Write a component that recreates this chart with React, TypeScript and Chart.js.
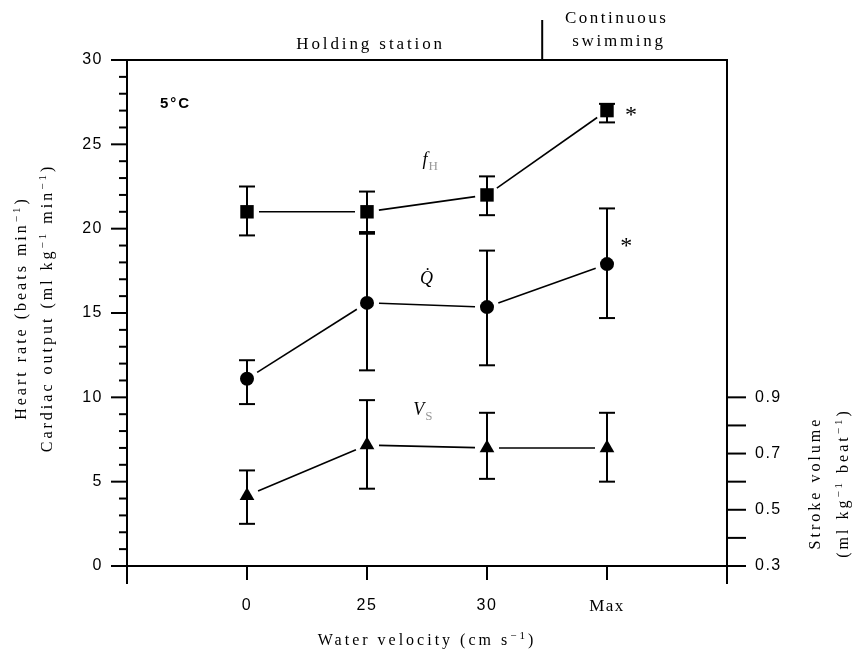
import React, { useEffect, useRef } from 'react';
import { Chart, registerables } from 'chart.js';

Chart.register(...registerables);

// ---- data ----
const categories = ['0', '25', '30', 'Max'];
const heartRate = [21.0, 21.0, 22.0, 27.0];
const heartRateHi = [22.5, 22.2, 23.1, 27.4];
const heartRateLo = [19.6, 19.8, 20.8, 26.3];
const cardiacOutput = [11.1, 15.6, 15.35, 17.9];
const cardiacOutputHi = [12.2, 19.7, 18.7, 21.2];
const cardiacOutputLo = [9.6, 11.6, 11.9, 14.7];
const strokeVolume = [0.55, 0.73, 0.72, 0.72];
const strokeVolumeHi = [0.64, 0.89, 0.845, 0.845];
const strokeVolumeLo = [0.45, 0.575, 0.61, 0.6];
const leftTickLabels = [0, 5, 10, 15, 20, 25, 30];
const leftMinorTicks = Array.from({ length: 31 }, (_, i) => i);
const rightTickLabels = [0.3, 0.5, 0.7, 0.9];
const rightMinorTicks = [0.3, 0.4, 0.5, 0.6, 0.7, 0.8, 0.9];

type Part = { t: string; sup?: boolean; sub?: boolean; italic?: boolean; color?: string };

const SERIF = '"Liberation Serif", "DejaVu Serif", serif';
const SANS = '"Liberation Sans", Arial, sans-serif';

function drawRich(
  ctx: CanvasRenderingContext2D,
  parts: Part[],
  x: number,
  y: number,
  size: number,
  family: string,
  spacing: number,
  align: 'left' | 'center' | 'right' = 'center',
  weight = ''
) {
  ctx.save();
  (ctx as any).letterSpacing = spacing + 'px';
  ctx.textBaseline = 'alphabetic';
  ctx.textAlign = 'left';
  const fontFor = (p: Part) =>
    `${p.italic ? 'italic ' : ''}${weight ? weight + ' ' : ''}${p.sup || p.sub ? Math.round(size * 0.7) : size}px ${family}`;
  let w = 0;
  parts.forEach((p) => {
    ctx.font = fontFor(p);
    w += ctx.measureText(p.t).width;
  });
  let cx = align === 'center' ? x - w / 2 : align === 'right' ? x - w : x;
  const base = y + size * 0.33;
  parts.forEach((p) => {
    ctx.font = fontFor(p);
    ctx.fillStyle = p.color || '#000';
    const dy = p.sup ? -size * 0.38 : p.sub ? size * 0.28 : 0;
    ctx.fillText(p.t, cx, base + dy);
    cx += ctx.measureText(p.t).width;
  });
  ctx.restore();
}

function line(ctx: CanvasRenderingContext2D, x1: number, y1: number, x2: number, y2: number) {
  ctx.beginPath();
  ctx.moveTo(x1, y1);
  ctx.lineTo(x2, y2);
  ctx.stroke();
}

const figurePlugin = {
  id: 'figure',
  beforeDraw(chart: any) {
    chart.ctx.letterSpacing = '1.5px';
  },
  beforeDatasetsDraw(chart: any) {
    const { ctx, chartArea: a, scales } = chart;
    const xs = scales.x, ys = scales.y, y2 = scales.y2;
    ctx.save();
    ctx.strokeStyle = '#000';
    ctx.lineCap = 'butt';
    ctx.lineWidth = 2;
    // frame / axes
    line(ctx, a.left - 1, a.top, a.right + 1, a.top);
    line(ctx, a.left, a.top, a.left, a.bottom + 18);
    line(ctx, a.right, a.top, a.right, a.bottom + 18);
    line(ctx, a.left - 16, a.bottom, a.right + 19, a.bottom);
    // left ticks
    leftMinorTicks.forEach((v) => {
      const py = ys.getPixelForValue(v);
      const len = v % 5 === 0 ? 16 : 8;
      line(ctx, a.left - len, py, a.left, py);
    });
    // right ticks
    rightMinorTicks.forEach((v) => {
      const py = y2.getPixelForValue(v);
      line(ctx, a.right, py, a.right + 19, py);
    });
    // x ticks
    categories.forEach((_, i) => {
      const px = xs.getPixelForValue(i + 1);
      line(ctx, px, a.bottom, px, a.bottom + 14);
    });
    // divider between holding station / continuous swimming
    const dvx = xs.getPixelForValue(3.46);
    line(ctx, dvx, a.top - 40, dvx, a.top);

    // connecting lines (with gaps around markers)
    const series: [number[], any][] = [
      [heartRate, ys],
      [cardiacOutput, ys],
      [strokeVolume, y2],
    ];
    ctx.lineWidth = 1.6;
    series.forEach(([vals, sc]) => {
      for (let i = 0; i < vals.length - 1; i++) {
        const x1 = xs.getPixelForValue(i + 1), y1 = sc.getPixelForValue(vals[i]);
        const x2 = xs.getPixelForValue(i + 2), yv2 = sc.getPixelForValue(vals[i + 1]);
        const dx = x2 - x1, dy = yv2 - y1, len = Math.hypot(dx, dy);
        const g = 12;
        line(ctx, x1 + (dx * g) / len, y1 + (dy * g) / len, x2 - (dx * g) / len, yv2 - (dy * g) / len);
      }
    });
    // error bars
    const bars: [number[], number[], any][] = [
      [heartRateHi, heartRateLo, ys],
      [cardiacOutputHi, cardiacOutputLo, ys],
      [strokeVolumeHi, strokeVolumeLo, y2],
    ];
    ctx.lineWidth = 2;
    bars.forEach(([hi, lo, sc]) => {
      hi.forEach((h, i) => {
        const px = xs.getPixelForValue(i + 1);
        const pyh = sc.getPixelForValue(h), pyl = sc.getPixelForValue(lo[i]);
        line(ctx, px, pyh, px, pyl);
        line(ctx, px - 8, pyh, px + 8, pyh);
        line(ctx, px - 8, pyl, px + 8, pyl);
      });
    });
    ctx.restore();
  },
  afterDraw(chart: any) {
    const { ctx, chartArea: a, scales } = chart;
    const xs = scales.x, ys = scales.y;
    const midX = (a.left + a.right) / 2;
    const midY = (a.top + a.bottom) / 2;

    // top annotations
    drawRich(ctx, [{ t: 'Holding station' }], xs.getPixelForValue(2.03), a.top - 17, 17, SERIF, 2.9);
    drawRich(ctx, [{ t: 'Continuous' }], xs.getPixelForValue(4.08), a.top - 43, 17, SERIF, 2.5);
    drawRich(ctx, [{ t: 'swimming' }], xs.getPixelForValue(4.1), a.top - 20, 17, SERIF, 2.7);

    // temperature label
    drawRich(ctx, [{ t: '5°C' }], xs.getPixelForValue(0.275), ys.getPixelForValue(27.45), 15, SANS, 2, 'left', 'bold');

    // series labels
    drawRich(ctx, [{ t: 'f', italic: true }, { t: 'H', sub: true, color: '#999' }], xs.getPixelForValue(2.53), ys.getPixelForValue(24.1), 18, SERIF, 1);
    drawRich(ctx, [{ t: 'Q\u0307', italic: true }], xs.getPixelForValue(2.5), ys.getPixelForValue(17.1), 18, SERIF, 1);
    drawRich(ctx, [{ t: 'V', italic: true }, { t: 'S', sub: true, color: '#999' }], xs.getPixelForValue(2.47), ys.getPixelForValue(9.3), 18, SERIF, 1);

    // significance asterisks
    drawRich(ctx, [{ t: '*' }], xs.getPixelForValue(4.2), ys.getPixelForValue(heartRate[3]) + 3, 24, SERIF, 0);
    drawRich(ctx, [{ t: '*' }], xs.getPixelForValue(4.16), ys.getPixelForValue(cardiacOutput[3]) - 19, 24, SERIF, 0);

    // x axis title
    drawRich(ctx, [{ t: 'Water velocity (cm s' }, { t: '\u22121', sup: true }, { t: ')' }], midX, 640, 16, SERIF, 3);

    // left axis title (two lines, rotated)
    ctx.save();
    ctx.translate(21, midY - 5);
    ctx.rotate(-Math.PI / 2);
    drawRich(ctx, [{ t: 'Heart rate (beats min' }, { t: '\u22121', sup: true }, { t: ')' }], 0, 0, 16, SERIF, 3);
    ctx.restore();
    ctx.save();
    ctx.translate(47, midY - 5);
    ctx.rotate(-Math.PI / 2);
    drawRich(
      ctx,
      [{ t: 'Cardiac output (ml kg' }, { t: '\u22121', sup: true }, { t: ' min' }, { t: '\u22121', sup: true }, { t: ')' }],
      0,
      0,
      16,
      SERIF,
      3
    );
    ctx.restore();

    // right axis title (two lines, rotated)
    ctx.save();
    ctx.translate(815, 483);
    ctx.rotate(-Math.PI / 2);
    drawRich(ctx, [{ t: 'Stroke volume' }], 0, 0, 16, SERIF, 3);
    ctx.restore();
    ctx.save();
    ctx.translate(843, 483);
    ctx.rotate(-Math.PI / 2);
    drawRich(ctx, [{ t: '(ml kg' }, { t: '\u22121', sup: true }, { t: ' beat' }, { t: '\u22121', sup: true }, { t: ')' }], 0, 0, 16, SERIF, 3);
    ctx.restore();
  },
};

export default function App() {
  const canvasRef = useRef<HTMLCanvasElement | null>(null);

  useEffect(() => {
    const canvas = canvasRef.current;
    if (!canvas) return;
    const mk = (vals: number[]) => vals.map((v, i) => ({ x: i + 1, y: v }));
    const chart = new Chart(canvas, {
      type: 'scatter',
      data: {
        datasets: [
          {
            label: 'Heart rate',
            data: mk(heartRate),
            yAxisID: 'y',
            pointStyle: 'rect',
            pointRadius: 9.5,
            backgroundColor: '#000',
            borderColor: '#000',
            borderWidth: 0,
            showLine: false,
          },
          {
            label: 'Cardiac output',
            data: mk(cardiacOutput),
            yAxisID: 'y',
            pointStyle: 'circle',
            pointRadius: 7,
            backgroundColor: '#000',
            borderColor: '#000',
            borderWidth: 0,
            showLine: false,
          },
          {
            label: 'Stroke volume',
            data: mk(strokeVolume),
            yAxisID: 'y2',
            pointStyle: 'triangle',
            pointRadius: 8.5,
            backgroundColor: '#000',
            borderColor: '#000',
            borderWidth: 0,
            showLine: false,
          },
        ],
      },
      options: {
        responsive: false,
        animation: false,
        devicePixelRatio: 1,
        layout: { padding: { top: 60, left: 0, right: 0, bottom: 0 } },
        plugins: {
          legend: { display: false },
          tooltip: { enabled: false },
        },
        scales: {
          x: {
            type: 'linear',
            position: 'bottom',
            min: 0,
            max: 5,
            afterBuildTicks: (axis: any) => {
              axis.ticks = categories.map((_, i) => ({ value: i + 1 }));
            },
            afterFit: (s: any) => {
              s.height = 89;
            },
            ticks: {
              autoSkip: false,
              maxRotation: 0,
              color: '#000',
              padding: 20,
              font: (c: any) => ({ family: c.index === 3 ? SERIF : SANS, size: c.index === 3 ? 17 : 16 }),
              callback: (v: any) => categories[Math.round(v) - 1] ?? '',
            },
            grid: { display: false, drawTicks: true, tickLength: 10 },
            border: { display: false },
          },
          y: {
            type: 'linear',
            position: 'left',
            min: 0,
            max: 30,
            afterBuildTicks: (axis: any) => {
              axis.ticks = leftTickLabels.map((v) => ({ value: v }));
            },
            afterFit: (s: any) => {
              s.width = 127;
            },
            ticks: {
              color: '#000',
              padding: 8,
              font: { family: SANS, size: 16 },
              callback: (v: any) => String(v),
            },
            grid: { display: false, drawTicks: true, tickLength: 16 },
            border: { display: false },
          },
          y2: {
            type: 'linear',
            position: 'right',
            min: 0.3,
            max: 2.1,
            afterBuildTicks: (axis: any) => {
              axis.ticks = rightTickLabels.map((v) => ({ value: v }));
            },
            afterFit: (s: any) => {
              s.width = 129;
            },
            ticks: {
              color: '#000',
              padding: 8,
              font: { family: SANS, size: 16 },
              callback: (v: any) => Number(v).toFixed(1),
            },
            grid: { display: false, drawTicks: true, tickLength: 20 },
            border: { display: false },
          },
        },
      } as any,
      plugins: [figurePlugin],
    });
    return () => chart.destroy();
  }, []);

  return (
    <div style={{ position: 'absolute', left: 0, top: 0, width: 856, height: 655, background: '#fff' }}>
      <canvas ref={canvasRef} width={856} height={655} style={{ display: 'block' }} />
    </div>
  );
}
